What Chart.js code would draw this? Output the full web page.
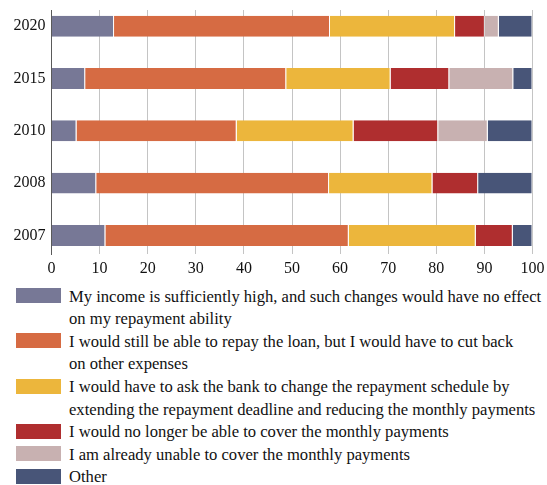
<!DOCTYPE html>
<html>
<head>
<meta charset="utf-8">
<script src="https://cdn.jsdelivr.net/npm/chart.js@4.4.1/dist/chart.umd.min.js"></script>
<style>
  html, body { margin: 0; padding: 0; background: #fff; }
  #wrap { position: relative; width: 547px; height: 485px; overflow: hidden; }
  #chartBox { position: absolute; left: 0; top: 0; width: 547px; height: 285px; }
  #legend { position: absolute; left: 0; top: 285.7px; width: 547px; margin: 0; padding: 0; list-style: none;
            font-family: "Liberation Serif", "Times New Roman", serif; font-size: 16.6px; line-height: 22.6px; color: #111; }
  #legend li { position: relative; padding-left: 69px; white-space: nowrap; }
  #legend .sw { position: absolute; left: 16px; top: 2.6px; width: 45px; height: 15px; }
</style>
</head>
<body>
<div id="wrap">
  <div id="chartBox"><canvas id="c"></canvas></div>
  <ul id="legend"></ul>
</div>
<script>
// Survey years, top to bottom
const years = ['2020', '2015', '2010', '2008', '2007'];

// Share of respondents (%) per answer, in the same order as years
const incomeHigh    = [13.0, 7.0, 5.2, 9.3, 11.2];
const cutExpenses   = [44.9, 41.8, 33.3, 48.4, 50.6];
const askBank       = [26.0, 21.7, 24.3, 21.5, 26.4];
const cannotCover   = [6.2, 12.2, 17.6, 9.5, 7.7];
const alreadyUnable = [2.9, 13.3, 10.3, 0, 0];
const other         = [7.0, 4.0, 9.3, 11.3, 4.1];

// Answer texts, split into the lines shown in the legend
const answerLabels = [
  ['My income is sufficiently high, and such changes would have no effect', 'on my repayment ability'],
  ['I would still be able to repay the loan, but I would have to cut back', 'on other expenses'],
  ['I would have to ask the bank to change the repayment schedule by', 'extending the repayment deadline and reducing the monthly payments'],
  ['I would no longer be able to cover the monthly payments'],
  ['I am already unable to cover the monthly payments'],
  ['Other']
];

// X axis tick values
const xTicks = [0, 10, 20, 30, 40, 50, 60, 70, 80, 90, 100];

const seriesValues = [incomeHigh, cutExpenses, askBank, cannotCover, alreadyUnable, other];
const seriesColors = ['#777896', '#d66b43', '#ecb63c', '#af2e2f', '#c8b1b1', '#485578'];

const FONT = '"Liberation Serif", "Times New Roman", serif';
const CHART_LEFT = 51.5;

// Keep the plot area fixed by the layout padding alone
function noEdgePadding(scale) {
  scale.paddingTop = 0;
  scale.paddingBottom = 0;
  scale.paddingLeft = 0;
  scale.paddingRight = 0;
}

const datasets = seriesValues.map((vals, s) => ({
  label: answerLabels[s],
  data: vals.map((v, i) => ({ x: v, y: i })),
  backgroundColor: seriesColors[s],
  borderColor: 'rgba(255,255,255,0.45)',
  borderWidth: { top: 0, bottom: 0, left: 0, right: 1 },
  borderSkipped: false,
  categoryPercentage: 1,
  barPercentage: 0.4
}));

const chart = new Chart(document.getElementById('c'), {
  type: 'bar',
  data: { datasets },
  options: {
    indexAxis: 'y',
    responsive: true,
    maintainAspectRatio: false,
    animation: false,
    layout: { padding: { top: 10, right: 14.5, left: 0, bottom: 0 } },
    plugins: { legend: { display: false }, tooltip: { enabled: false } },
    scales: {
      x: {
        type: 'linear',
        stacked: true,
        offset: false,
        min: 0,
        max: 100,
        afterBuildTicks: (scale) => { scale.ticks = xTicks.map(v => ({ value: v })); },
        afterFit: (scale) => { scale.height = 31; noEdgePadding(scale); },
        grid: { color: '#c4c4c4', lineWidth: 1, drawTicks: false },
        border: { display: false },
        ticks: { padding: 5, color: '#111', font: { family: FONT, size: 16 } }
      },
      y: {
        type: 'linear',
        stacked: true,
        offset: false,
        reverse: true,
        min: -0.31,
        max: 4.355,
        afterBuildTicks: (scale) => { scale.ticks = years.map((_, i) => ({ value: i })); },
        afterFit: (scale) => { scale.width = CHART_LEFT; noEdgePadding(scale); },
        grid: { display: false, drawTicks: false },
        border: { display: true, color: '#5a5a5a', width: 1 },
        ticks: {
          padding: 6,
          color: '#111',
          font: { family: FONT, size: 16 },
          callback: (v) => years[v] ?? ''
        }
      }
    }
  }
});

// Legend built from the chart's datasets
const legendEl = document.getElementById('legend');
chart.data.datasets.forEach((ds) => {
  const li = document.createElement('li');
  const sw = document.createElement('span');
  sw.className = 'sw';
  sw.style.background = ds.backgroundColor;
  li.appendChild(sw);
  ds.label.forEach((line, k) => {
    if (k > 0) li.appendChild(document.createElement('br'));
    li.appendChild(document.createTextNode(line));
  });
  legendEl.appendChild(li);
});
</script>
</body>
</html>
